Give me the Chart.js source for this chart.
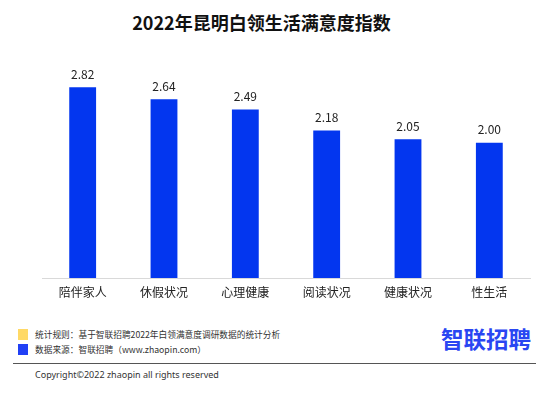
<!DOCTYPE html>
<html>
<head>
<meta charset="utf-8">
<script src="https://cdn.jsdelivr.net/npm/chart.js@4/dist/chart.umd.min.js"></script>
<style>
  body { margin: 0; width: 553px; height: 393px; background: #fff; position: relative; overflow: hidden;
         font-family: "Noto Sans CJK SC", "Noto Sans", sans-serif; color: #222; }
  #title { position: absolute; left: 0; width: 523px; top: 9px; text-align: center;
           font-size: 18px; font-weight: bold; color: #111; }
  #wrap { position: absolute; left: 0; top: 40px; width: 553px; height: 270px; }
  .legend { position: absolute; left: 18px; font-size: 8.7px; color: #333; }
  .legend span { display: inline-block; width: 10px; height: 11px; margin-right: 7px; vertical-align: -2px; }
  #rule { position: absolute; left: 13px; top: 363px; width: 523px; border-top: 1px solid #555; }
  #copy { position: absolute; left: 35px; top: 368px; font-size: 9px; color: #333; font-family: "Noto Sans", sans-serif; }
  #logo { position: absolute; left: 441px; top: 322px; font-size: 22.5px; font-weight: bold; color: #2a46f2; }
</style>
</head>
<body>
<div id="title">2022年昆明白领生活满意度指数</div>
<div id="wrap"><canvas id="chart"></canvas></div>
<div class="legend" style="top:328px"><span style="background:#ffd966"></span>统计规则：基于智联招聘2022年白领满意度调研数据的统计分析</div>
<div class="legend" style="top:343px"><span style="background:#2140f5"></span>数据来源：智联招聘（www.zhaopin.com）</div>
<div id="logo">智联招聘</div>
<div id="rule"></div>
<div id="copy">Copyright©2022 zhaopin all rights reserved</div>
<script>
const categories = ['陪伴家人', '休假状况', '心理健康', '阅读状况', '健康状况', '性生活'];
const scores = [2.82, 2.64, 2.49, 2.18, 2.05, 2.00];

// draw the value above each bar
const valueLabels = {
  id: 'valueLabels',
  afterDatasetsDraw(chart) {
    const ctx = chart.ctx;
    const meta = chart.getDatasetMeta(0);
    ctx.save();
    ctx.font = '12px "Noto Sans CJK SC", sans-serif';
    ctx.fillStyle = '#222';
    ctx.textAlign = 'center';
    ctx.textBaseline = 'bottom';
    meta.data.forEach((bar, i) => {
      ctx.fillText(scores[i].toFixed(2), bar.x, bar.y - 7);
    });
    ctx.restore();
  }
};

new Chart(document.getElementById('chart').getContext('2d'), {
  type: 'bar',
  data: {
    labels: categories,
    datasets: [{
      data: scores,
      backgroundColor: '#0336ef',
      barPercentage: 0.33,
      categoryPercentage: 1
    }]
  },
  options: {
    responsive: true,
    maintainAspectRatio: false,
    animation: false,
    layout: { padding: { left: 42, right: 23, top: 35, bottom: 0 } },
    plugins: { legend: { display: false }, tooltip: { enabled: false } },
    scales: {
      x: {
        grid: { display: false, drawTicks: false },
        border: { display: true, color: '#d9d9d9', width: 1 },
        ticks: { color: '#222', padding: 7, font: { size: 12, family: '"Noto Sans CJK SC", sans-serif' } },
        afterFit(scale) { scale.height = 32; }
      },
      y: { display: false, min: 0, max: 3 }
    }
  },
  plugins: [valueLabels]
});
</script>
</body>
</html>
